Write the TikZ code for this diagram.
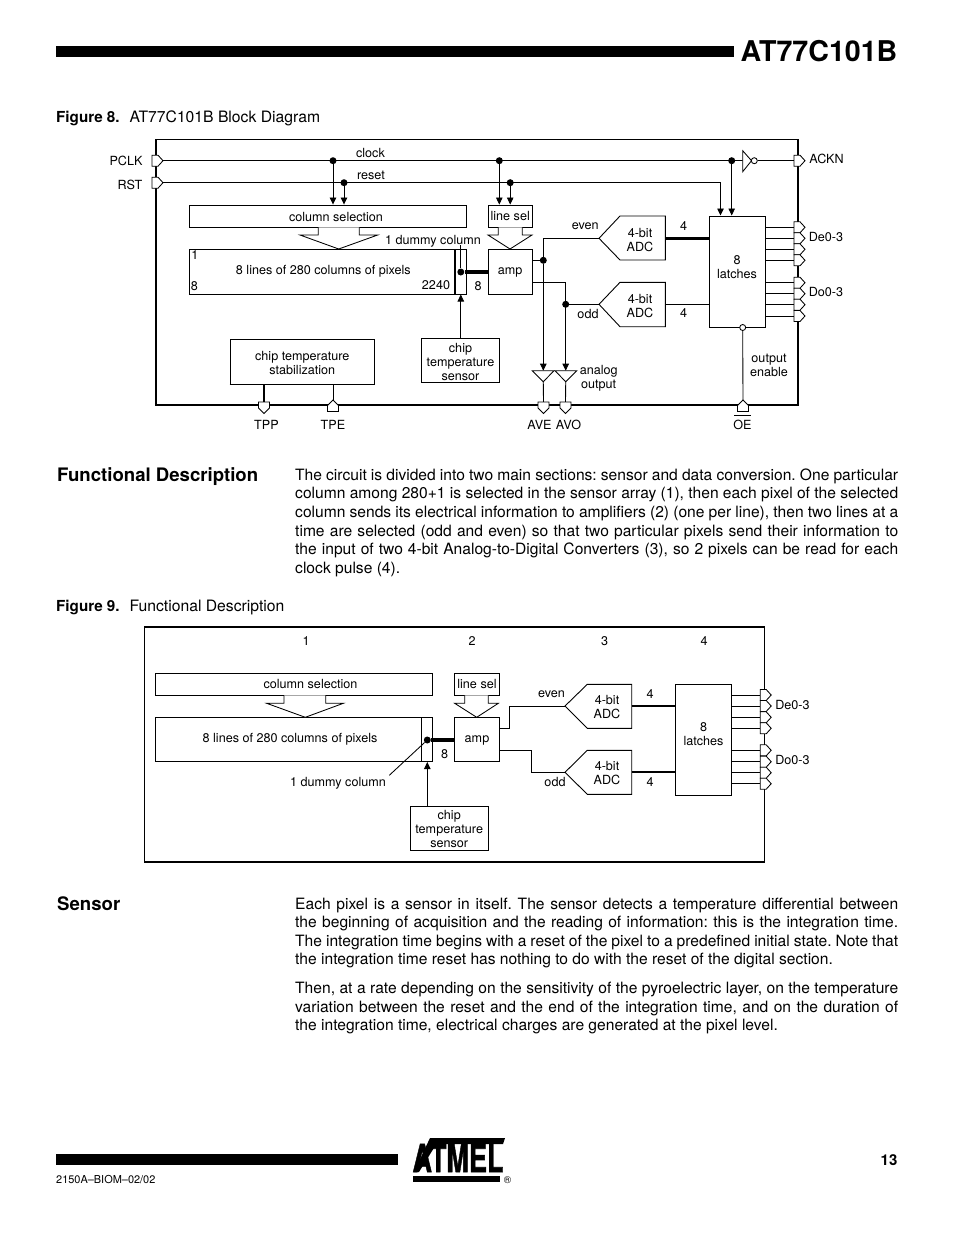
\documentclass[tikz,border=0pt]{standalone}
\usepackage{fontspec}
\setmainfont{TeX Gyre Heros}
\newfontfamily\logofont[FakeBold=1.5]{TeX Gyre Heros Bold}
\usetikzlibrary{calc,arrows.meta}
\frenchspacing

\newcommand{\labelfont}{\fontsize{12.6}{14}\selectfont}
\newcommand{\bodyfont}{\fontsize{15.6}{18.6}\selectfont}
\newcommand{\capfont}{\fontsize{15.7}{17}\selectfont}
\newcommand{\capbold}{\fontsize{15.2}{17}\selectfont\bfseries}

% pins on the frame, centred on a named coordinate
\newcommand{\pinright}[1]{\draw[pinline] (#1) ++(-4.5,-5.5) -- ++(6,0) -- ++(5,5.5) -- ++(-5,5.5) -- ++(-6,0) -- cycle;}
\newcommand{\pindown}[1]{\draw[pinline] (#1) ++(-5.5,-3) -- ++(11,0) -- ++(0,6) -- ++(-5.5,5.5) -- ++(-5.5,-5.5) -- cycle;}
\newcommand{\pinup}[1]{\draw[pinline] (#1) ++(-5.5,6.5) -- ++(11,0) -- ++(0,-6) -- ++(-5.5,-5.5) -- ++(-5.5,5.5) -- cycle;}

\tikzset{
  lbl/.style={font=\labelfont,inner sep=0pt,align=center},
  box/.style={draw,line width=0.9pt,fill=white,inner sep=0pt},
  wire/.style={line width=0.85pt},
  heavy/.style={line width=1.9pt},
  bus/.style={line width=3.2pt},
  frameline/.style={line width=1.9pt},
  pinline/.style={line width=0.85pt,fill=white},
  dotnode/.style={circle,fill=black,inner sep=0pt,minimum size=7pt},
  opennode/.style={circle,draw,line width=0.85pt,fill=white,inner sep=0pt,minimum size=6pt},
  para/.style={font=\bodyfont,inner sep=0pt,text width=603pt,align=justify,anchor=north west},
  head/.style={font=\fontsize{18.6}{22}\selectfont\bfseries,inner sep=0pt,anchor=base west},
  caption/.style={font=\capfont,inner sep=0pt,anchor=base west},
}

\begin{document}
\begin{tikzpicture}[x=1pt,y=-1pt,>={Stealth[length=7pt,width=6.5pt,inset=0pt]}]
    \useasboundingbox[fill=white] (0,0) rectangle (954,1235);

    % Page header and footer
    \fill (56,46) rectangle (734,57);
    \node[inner sep=0pt,font=\fontsize{28.6}{30}\selectfont\bfseries] (title) at (819,51) {AT77C101B};
    \fill (56,1154) rectangle (398,1165);
    \node[inner sep=0pt,anchor=west,font=\fontsize{10.95}{13}\selectfont] (docref) at (56,1180) {2150A--BIOM--02/02};
    \node[inner sep=0pt,font=\fontsize{15}{17}\selectfont\bfseries] (pageno) at (889,1160) {13};

    % Logo
    \fill (430,1138) -- (505,1138) -- (503,1144) -- (430,1144) -- cycle;
    \fill (430,1138) -- (414,1172) -- (419,1172) -- (437,1143) -- cycle;
    \fill (413,1175.7) rectangle (500,1182);
    \node[inner sep=0pt,font=\fontsize{25.8}{26}\selectfont\logofont] (logo) at (458,1158) {\scalebox{1.05}[1.5]{ATMEL}};
    \node[inner sep=0pt,font=\fontsize{10}{10}\selectfont] (logoreg) at (507.5,1180.5) {\textregistered};

    % Figure 8
    \node[caption] (capA) at (56,122) {{\capbold Figure 8.}\hspace{10pt}AT77C101B Block Diagram};
    \draw[frameline] (156,139.5) rectangle (798,405);

    \coordinate (pclk) at (156.5,160.7);
    \coordinate (rst) at (156.5,182.7);
    \coordinate (ackn) at (798.5,160.7);
    \coordinate (tpp) at (264,405);
    \coordinate (tpe) at (333,405);
    \coordinate (ave) at (543.5,405);
    \coordinate (avo) at (565.5,405);
    \coordinate (oe) at (743,405);
    \coordinate (de0) at (798.5,227.3);
    \coordinate (de1) at (798.5,238.3);
    \coordinate (de2) at (798.5,249.3);
    \coordinate (de3) at (798.5,260.3);
    \coordinate (do0) at (798.5,282.7);
    \coordinate (do1) at (798.5,293.7);
    \coordinate (do2) at (798.5,304.7);
    \coordinate (do3) at (798.5,316);

    % Blocks
    \node[box,minimum width=277.5,minimum height=22] (colsel) at (328,216) {};
    \node[box,minimum width=277.5,minimum height=45] (pixels) at (328,271.5) {};
    \node[box,minimum width=44.5,minimum height=22] (linesel) at (510.2,216) {};
    \node[box,minimum width=44.5,minimum height=45] (amp) at (510.2,271.5) {};
    \node[box,minimum width=56,minimum height=111.5] (latches) at (737.3,271.7) {};
    \node[box,minimum width=144.5,minimum height=45] (stab) at (302.3,361.5) {};
    \node[box,minimum width=78,minimum height=44.5] (sensor) at (460.5,360.3) {};
    \draw[heavy] (pixels.south west) -- (pixels.south east);
    \draw[heavy] (455,249) -- (455,294);
    \draw[heavy] (stab.south west) -- (stab.south east);

    \node[lbl] (lblcol) at (336,217) {column selection};
    \node[lbl] (lblline) at (510.2,215.5) {line sel};
    \node[lbl] (lblamp) at (510.2,272.5) {amp};
    \node[lbl] (lbllatch) at (737,267) {8\\latches};
    \node[lbl] (lblstab) at (302.3,363) {chip temperature\\stabilization};
    \node[lbl] (lblsens) at (460.5,361.5) {chip\\temperature\\sensor};
    \node[lbl] (lblpix) at (323.3,271) {8 lines of 280 columns of pixels};
    \node[lbl] (lblone) at (195,255) {1};
    \node[lbl] (lbleight) at (194.5,286) {8};
    \node[lbl] (lblcount) at (436,285) {2240};
    \node[lbl] (lbldummy) at (433,241) {1 dummy column};

    % Block arrows
    \draw[wire,fill=white] (318.3,227.3) -- (318.3,235) -- (300,235) -- (338.7,249) -- (377.7,235) -- (359.3,235) -- (359.3,227.3);
    \draw[wire,fill=white] (498.3,227.3) -- (498.3,235) -- (488,235) -- (510,249) -- (532,235) -- (522.3,235) -- (522.3,227.3);

    % Converters
    \coordinate (evenin) at (599,238.3);
    \coordinate (oddin) at (599,304.3);
    \draw[box] (evenin) -- (620,216) -- (665.3,216) -- (665.3,260) -- (620,260) -- cycle;
    \draw[box] (oddin) -- (620,282.3) -- (665.3,282.3) -- (665.3,326.7) -- (620,326.7) -- cycle;
    \node[lbl] (adceven) at (640,240) {4-bit\\ADC};
    \node[lbl] (adcodd) at (640,306.5) {4-bit\\ADC};
    \draw[heavy,line width=2.6pt] (665.3,238.3) -- (latches.west |- evenin);
    \draw[heavy,line width=1.6pt] (665.3,304.3) -- (latches.west |- oddin);
    \node[lbl] (nbeven) at (683.5,226) {4};
    \node[lbl] (nbodd) at (683.5,313.5) {4};
    \node[lbl] (lbleven) at (585.3,226.5) {even};
    \node[lbl] (lblodd) at (588,313.5) {odd};

    % Clock and reset
    \node[dotnode] (clkA) at (333,160.7) {};
    \node[dotnode] (clkB) at (499.3,160.7) {};
    \node[dotnode] (clkC) at (731.7,160.7) {};
    \node[dotnode] (rstA) at (344,182.7) {};
    \node[dotnode] (rstB) at (510.2,182.7) {};
    \draw[heavy,line width=1.5pt] (pclk) -- (742.7,160.7);
    \draw[wire] (rst) -- (720.5,182.7) coordinate (rstC);
    \draw[wire,->] (clkA) -- (clkA |- colsel.north);
    \draw[wire,->] (rstA) -- (rstA |- colsel.north);
    \draw[wire,->] (clkB) -- (clkB |- linesel.north);
    \draw[wire,->] (rstB) -- (rstB |- linesel.north);
    \draw[wire,->] (clkC) -- (clkC |- latches.north);
    \draw[wire,->] (rstC) -- (rstC |- latches.north);
    \node[lbl] (lblclock) at (370.5,153) {clock};
    \node[lbl] (lblreset) at (371,175) {reset};

    % Inverter towards ACKN
    \draw[wire,fill=white] (742.7,150.7) -- (751.5,160.7) -- (742.7,171.7) -- cycle;
    \node[opennode] (inv) at (754.3,160.7) {};
    \draw[wire] (inv) -- (ackn);

    % Dummy column and amplifier
    \node[dotnode] (dummy) at (460.8,272) {};
    \draw[wire] (460.8,245) -- (dummy);
    \draw[bus] (dummy) -- (amp.west |- dummy);
    \node[lbl] (nbbus) at (478,286) {8};
    \draw[wire,->] (sensor.north -| dummy) -- (460.8,294.5);

    % Analog paths
    \node[dotnode] (dotE) at (543.3,260.3) {};
    \node[dotnode] (dotO) at (565.7,304.3) {};
    \draw[wire] (amp.east |- dotE) -- (dotE);
    \draw[wire] (dotE) |- (evenin);
    \draw[wire] (dotO) -- (oddin);
    \draw[wire,->] (dotE) -- (543.3,370.7);
    \draw[wire,->] (532.7,282.5) -| (565.7,370.7);
    \draw[wire,fill=white] (532.3,370.7) -- (554,370.7) -- (543.3,381.7) -- cycle;
    \draw[wire,fill=white] (555,370.7) -- (576.7,370.7) -- (565.7,381.7) -- cycle;
    \draw[wire] (543.3,381.7) -- (ave);
    \draw[wire] (565.7,381.7) -- (avo);
    \node[lbl] (lblanalog) at (598.7,378.5) {analog\\output};

    % Outputs
    \draw[wire] (latches.east |- de0) -- (de0);
    \draw[wire] (latches.east |- de1) -- (de1);
    \draw[wire] (latches.east |- de2) -- (de2);
    \draw[wire] (latches.east |- de3) -- (de3);
    \draw[wire] (latches.east |- do0) -- (do0);
    \draw[wire] (latches.east |- do1) -- (do1);
    \draw[wire] (latches.east |- do2) -- (do2);
    \draw[wire] (latches.east |- do3) -- (do3);
    \node[opennode] (oebar) at (742.7,327.5) {};
    \draw[wire] (oebar) -- (oe);
    \node[lbl] (lbloutput) at (769,365.5) {output\\enable};
    \draw[heavy,line width=2.2pt] (tpp |- stab.south) -- (tpp);
    \draw[wire] (tpe |- stab.south) -- (tpe);

    % Pins and their names
    \pinright{pclk} \pinright{rst} \pinright{ackn}
    \pinright{de0} \pinright{de1} \pinright{de2} \pinright{de3}
    \pinright{do0} \pinright{do1} \pinright{do2} \pinright{do3}
    \pindown{tpp} \pinup{tpe} \pindown{ave} \pindown{avo} \pinup{oe}
    \node[lbl] (namepclk) at (126,160.5) {PCLK};
    \node[lbl] (namerst) at (130,185) {RST};
    \node[lbl] (nameackn) at (826.5,158.5) {ACKN};
    \node[lbl] (namede) at (826,237) {De0-3};
    \node[lbl] (namedo) at (826,292) {Do0-3};
    \node[lbl] (nametpp) at (266.5,424.5) {TPP};
    \node[lbl] (nametpe) at (333,424.5) {TPE};
    \node[lbl] (nameave) at (539.5,424.5) {AVE};
    \node[lbl] (nameavo) at (568.5,424.5) {AVO};
    \node[lbl] (nameoe) at (742.5,424.5) {OE};
    \draw[wire] (734.3,415.3) -- (750.7,415.3);

    % Functional Description
    \node[head] (headfunc) at (57,481) {Functional Description};
    \node[para] (parafunc) at (295,468.5) {The circuit is divided into two main sections: sensor and data conversion. One particular\linebreak
      column among 280+1 is selected in the sensor array (1), then each pixel of the selected\linebreak
      column sends its electrical information to amplifiers (2) (one per line), then two lines at a\linebreak
      time are selected (odd and even) so that two particular pixels send their information to\linebreak
      the input of two 4-bit Analog-to-Digital Converters (3), so 2 pixels can be read for each\linebreak
      clock pulse (4).};

    % Figure 9
    \node[caption] (capB) at (56,611) {{\capbold Figure 9.}\hspace{10pt}Functional Description};
    \draw[wire] (144,627) rectangle (764.7,861.7);
    \draw[frameline] (144,627) -- (764.7,627);
    \draw[frameline] (144,861.7) -- (764.7,861.7);

    \node[lbl] (stepone) at (306,641) {1};
    \node[lbl] (steptwo) at (472,641) {2};
    \node[lbl] (stepthree) at (604.5,641) {3};
    \node[lbl] (stepfour) at (704,641) {4};

    \coordinate (dfe0) at (764.7,695);
    \coordinate (dfe1) at (764.7,706);
    \coordinate (dfe2) at (764.7,717.3);
    \coordinate (dfe3) at (764.7,728.3);
    \coordinate (dfo0) at (764.7,750.3);
    \coordinate (dfo1) at (764.7,761.7);
    \coordinate (dfo2) at (764.7,772.7);
    \coordinate (dfo3) at (764.7,783.7);

    \node[box,minimum width=277.4,minimum height=22] (colselB) at (294,684.3) {};
    \node[box,minimum width=277.4,minimum height=44] (pixelsB) at (294,739.3) {};
    \node[box,minimum width=44.6,minimum height=22] (lineselB) at (477,684.3) {};
    \node[box,minimum width=44.6,minimum height=44] (ampB) at (477,739.3) {};
    \node[box,minimum width=56.4,minimum height=110.7] (latchesB) at (703.5,739.7) {};
    \node[box,minimum width=78.3,minimum height=44] (sensorB) at (449.2,828.7) {};
    \draw[wire] (421.7,717.3) -- (421.7,761.3);
    \node[lbl] (lblcolB) at (310.5,683.5) {column selection};
    \node[lbl] (lbllineB) at (477,683.5) {line sel};
    \node[lbl] (lblampB) at (477,740) {amp};
    \node[lbl] (lbllatchB) at (703.5,734) {8\\latches};
    \node[lbl] (lblsensB) at (449.2,829) {chip\\temperature\\sensor};
    \node[lbl] (lblpixB) at (290,739) {8 lines of 280 columns of pixels};

    \draw[wire,fill=white] (284,695.3) -- (284,703.3) -- (266.7,703.3) -- (305.3,717.3) -- (343.3,703.3) -- (325.7,703.3) -- (325.7,695.3);
    \draw[wire,fill=white] (464.7,695.3) -- (464.7,703.3) -- (454.7,703.3) -- (476.7,717.3) -- (498.3,703.3) -- (488.3,703.3) -- (488.3,695.3);

    \node[dotnode] (dummyB) at (427.3,740) {};
    \draw[bus] (dummyB) -- (ampB.west |- dummyB);
    \node[lbl] (nbbusB) at (444.5,754) {8};
    \coordinate (leader) at (389.3,775.3);
    \draw[wire] (dummyB) -- (leader);
    \node[lbl] (lbldummyB) at (338,783) {1 dummy column};
    \draw[wire,->] (sensorB.north -| dummyB) -- (427.3,762);

    \coordinate (eveninB) at (565,706);
    \coordinate (oddinB) at (565,772.3);
    \draw[box] (eveninB) -- (587.3,684.3) -- (631.7,684.3) -- (631.7,728.3) -- (587.3,728.3) -- cycle;
    \draw[box] (oddinB) -- (587.3,750.3) -- (631.7,750.3) -- (631.7,794.3) -- (587.3,794.3) -- cycle;
    \node[lbl] (adcevenB) at (607,707.5) {4-bit\\ADC};
    \node[lbl] (adcoddB) at (607,773.5) {4-bit\\ADC};
    \draw[heavy] (631.7,706) -- (latchesB.west |- eveninB);
    \draw[heavy] (631.7,772.3) -- (latchesB.west |- oddinB);
    \node[lbl] (nbevenB) at (650,694) {4};
    \node[lbl] (nboddB) at (650,782) {4};
    \node[lbl] (lblevenB) at (551.5,694.5) {even};
    \node[lbl] (lbloddB) at (555,782) {odd};
    \draw[wire] (499.3,728.3) -- (509.3,728.3) -- (509.3,706) -- (eveninB);
    \draw[wire] (499.3,750.3) -- (531.7,750.3) -- (531.7,772.3) -- (oddinB);

    \draw[wire] (latchesB.east |- dfe0) -- (dfe0);
    \draw[wire] (latchesB.east |- dfe1) -- (dfe1);
    \draw[wire] (latchesB.east |- dfe2) -- (dfe2);
    \draw[wire] (latchesB.east |- dfe3) -- (dfe3);
    \draw[wire] (latchesB.east |- dfo0) -- (dfo0);
    \draw[wire] (latchesB.east |- dfo1) -- (dfo1);
    \draw[wire] (latchesB.east |- dfo2) -- (dfo2);
    \draw[wire] (latchesB.east |- dfo3) -- (dfo3);
    \pinright{dfe0} \pinright{dfe1} \pinright{dfe2} \pinright{dfe3}
    \pinright{dfo0} \pinright{dfo1} \pinright{dfo2} \pinright{dfo3}
    \node[lbl] (namedeB) at (792.5,705) {De0-3};
    \node[lbl] (namedoB) at (792.5,760) {Do0-3};

    % Sensor
    \node[head] (headsens) at (57,910) {Sensor};
    \node[para] (parasensA) at (295,897.5) {Each pixel is a sensor in itself. The sensor detects a temperature differential between\linebreak
      the beginning of acquisition and the reading of information: this is the integration time.\linebreak
      The integration time begins with a reset of the pixel to a predefined initial state. Note that\linebreak
      the integration time reset has nothing to do with the reset of the digital section.};
    \node[para] (parasensB) at (295,982) {Then, at a rate depending on the sensitivity of the pyroelectric layer, on the temperature\linebreak
      variation between the reset and the end of the integration time, and on the duration of\linebreak
      the integration time, electrical charges are generated at the pixel level.};
\end{tikzpicture}
\end{document}
